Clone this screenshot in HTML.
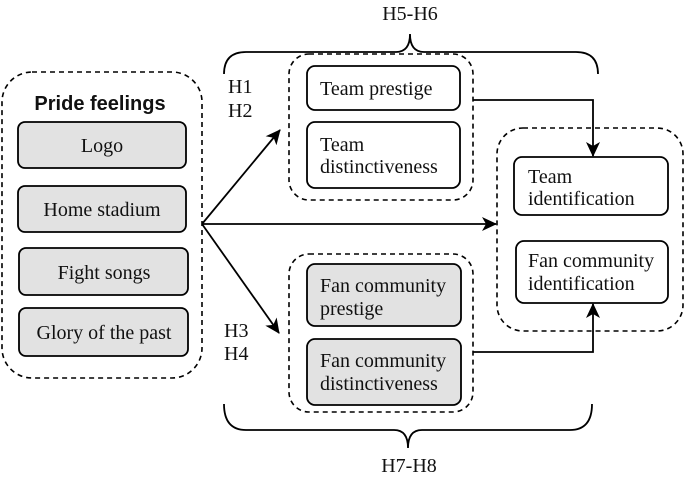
<!DOCTYPE html>
<html><head><meta charset="utf-8"><style>
html,body{margin:0;padding:0;background:#fff;width:685px;height:478px;overflow:hidden}
text{font-family:"Liberation Serif",serif;font-size:20px;fill:#111}
</style></head><body>
<svg width="685" height="478" viewBox="0 0 685 478" xmlns="http://www.w3.org/2000/svg">
<defs><marker id="a" markerWidth="16" markerHeight="14" refX="14" refY="7" orient="auto" markerUnits="userSpaceOnUse"><path d="M0,0 L15,7 L0,14 L4,7 Z" fill="#000"/></marker></defs>
<g fill="none" stroke="#000" stroke-width="1.6" stroke-dasharray="5,4">
<rect x="2" y="72" width="200" height="306" rx="30"/>
<rect x="289" y="54" width="184" height="146" rx="20"/>
<rect x="289" y="254" width="184" height="158" rx="20"/>
<rect x="497" y="128" width="186" height="203" rx="26"/>
</g>
<g stroke="#000" stroke-width="1.8">
<rect x="18" y="122" width="168" height="46" rx="7" fill="#e2e2e2"/>
<rect x="18" y="186" width="168" height="46" rx="7" fill="#e2e2e2"/>
<rect x="19" y="248" width="169" height="47" rx="7" fill="#e2e2e2"/>
<rect x="19" y="308" width="169" height="48" rx="7" fill="#e2e2e2"/>
<rect x="307" y="66" width="153" height="44" rx="8" fill="#fff"/>
<rect x="307" y="122" width="153" height="66" rx="8" fill="#fff"/>
<rect x="307" y="264" width="154" height="62" rx="8" fill="#e2e2e2"/>
<rect x="307" y="339" width="154" height="66" rx="8" fill="#e2e2e2"/>
<rect x="514" y="157" width="154" height="58" rx="8" fill="#fff"/>
<rect x="516" y="241" width="152" height="62" rx="8" fill="#fff"/>
</g>
<g fill="none" stroke="#000" stroke-width="1.8">
<path d="M202,224 L280,130" marker-end="url(#a)"/>
<path d="M202,224 L279,333" marker-end="url(#a)"/>
<path d="M202,224 L496,224" marker-end="url(#a)"/>
<path d="M473,100 L593,100 L593,156" marker-end="url(#a)"/>
<path d="M473,352 L593,352 L593,304" marker-end="url(#a)"/>
<path d="M224,74 Q224,52 246,52 L396,52 Q410,52 410,34 Q410,52 424,52 L576,52 Q598,52 598,74"/>
<path d="M224,404 Q224,430 246,430 L394,430 Q408,430 408,448 Q408,430 422,430 L570,430 Q592,430 592,404"/>
</g>
<text x="100" y="110" text-anchor="middle" style="font-family:'Liberation Sans',sans-serif;font-weight:bold;font-size:20px">Pride feelings</text>
<g text-anchor="middle">
<text x="102" y="152">Logo</text>
<text x="102" y="216">Home stadium</text>
<text x="104" y="279">Fight songs</text>
<text x="104" y="339">Glory of the past</text>
<text x="410" y="20">H5-H6</text>
<text x="409" y="472">H7-H8</text>
</g>
<text x="320" y="95">Team prestige</text>
<text x="320" y="151">Team</text>
<text x="320" y="173">distinctiveness</text>
<text x="320" y="292">Fan community</text>
<text x="320" y="315">prestige</text>
<text x="320" y="367">Fan community</text>
<text x="320" y="390">distinctiveness</text>
<text x="528" y="183">Team</text>
<text x="528" y="205">identification</text>
<text x="528" y="267">Fan community</text>
<text x="528" y="290">identification</text>
<text x="228" y="93">H1</text>
<text x="228" y="117">H2</text>
<text x="224" y="337">H3</text>
<text x="224" y="360">H4</text>
</svg>
</body></html>
